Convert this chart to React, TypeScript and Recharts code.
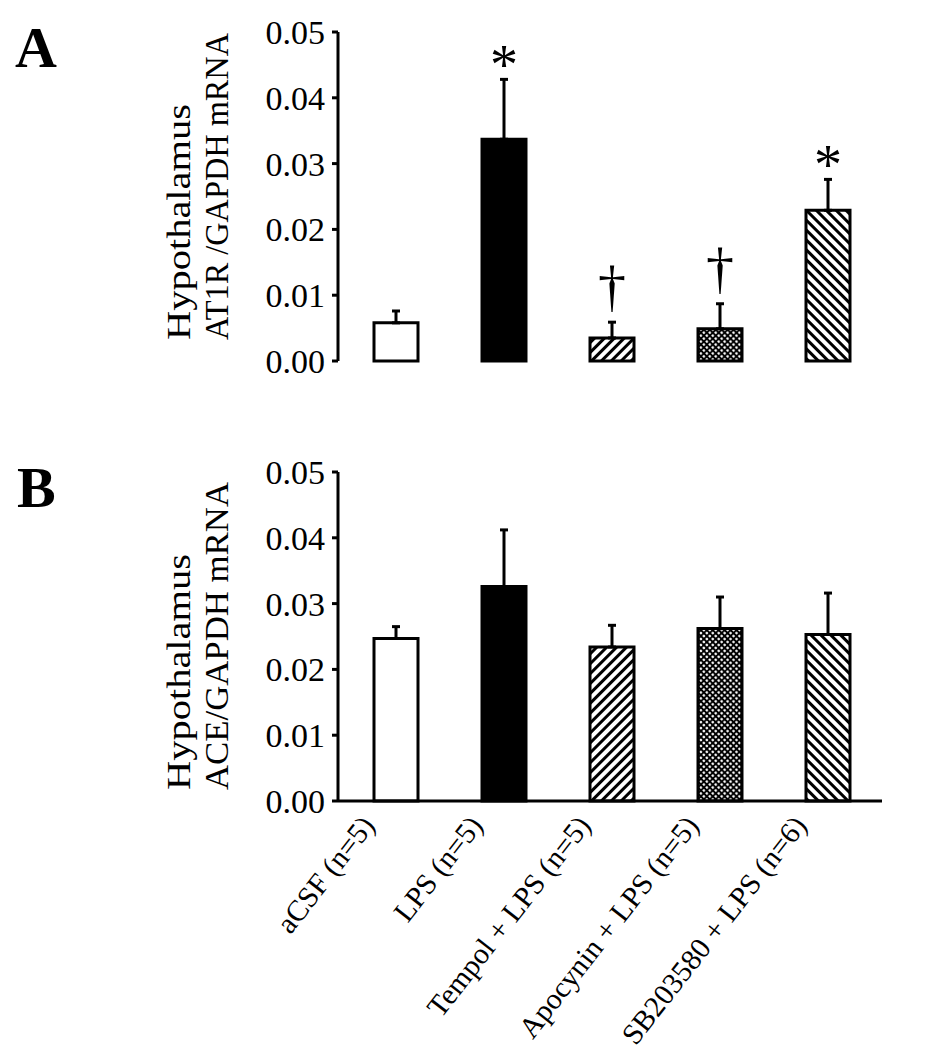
import React from "react";
import { BarChart, Bar, XAxis, YAxis, ErrorBar, Cell, LabelList } from "recharts";

// group labels along the x axis
const groups = [
  "aCSF (n=5)",
  "LPS (n=5)",
  "Tempol + LPS (n=5)",
  "Apocynin + LPS (n=5)",
  "SB203580 + LPS (n=6)",
];

// panel A: AT1R / GAPDH mRNA (mean, SEM)
const at1rMean = [0.0058, 0.0337, 0.0035, 0.0049, 0.0229];
const at1rSem = [0.0018, 0.0091, 0.0024, 0.0038, 0.0047];
const at1rMarks = ["", "*", "†", "†", "*"];

// panel B: ACE / GAPDH mRNA (mean, SEM)
const aceMean = [0.0247, 0.0326, 0.0234, 0.0262, 0.0253];
const aceSem = [0.0018, 0.0086, 0.0033, 0.0048, 0.0063];

const yTicks = [0, 0.01, 0.02, 0.03, 0.04, 0.05];

const barFills = ["#ffffff", "#000000", "url(#hatchFwd)", "url(#hatchCross)", "url(#hatchBack)"];

const SERIF = "'Liberation Serif', 'Times New Roman', serif";

const dataA = groups.map((name, i) => ({
  name,
  value: at1rMean[i],
  err: [0, at1rSem[i]],
  sem: at1rSem[i],
  mark: at1rMarks[i],
}));

const dataB = groups.map((name, i) => ({
  name,
  value: aceMean[i],
  err: [0, aceSem[i]],
  sem: aceSem[i],
  mark: "",
}));

const AngledTick = (props: any) => {
  const { x, y, payload } = props;
  return (
    <g transform={`translate(${x - 20},${y + 17})`}>
      <text x={0} y={0} transform="rotate(-52)" textAnchor="end" fontFamily={SERIF} fontSize={29.5} fill="#000">
        {payload.value}
      </text>
    </g>
  );
};

// significance symbol placed just above the error bar
const markLabel = (data: any[]) => (p: any) => {
  const { x, y, width, height, index, value } = p;
  if (!value) return null;
  const d = data[index];
  const errTop = y - d.sem * (height / d.value);
  const cx = x + width / 2;
  if (value === "*") {
    return (
      <text x={cx} y={errTop + 5} textAnchor="middle" fontFamily={SERIF} fontSize={56} fill="#000">
        *
      </text>
    );
  }
  return (
    <text x={cx} y={errTop - 17} textAnchor="middle" fontFamily={SERIF} fontSize={56} fill="#000">
      †
    </text>
  );
};

function Panel({ data, height, xHeight, angled }: { data: any[]; height: number; xHeight: number; angled: boolean }) {
  return (
    <BarChart
      width={944}
      height={height}
      data={data}
      margin={{ top: 32, right: 62, left: 0, bottom: angled ? 0 : 39 }}
      barSize={44}
    >
      <XAxis
        dataKey="name"
        height={xHeight}
        padding={{ left: 4, right: 0 }}
        axisLine={{ stroke: "#000", strokeWidth: 3 }}
        tickLine={false}
        tick={angled ? <AngledTick /> : false}
        interval={0}
      />
      <YAxis
        width={338}
        domain={[0, 0.05]}
        ticks={yTicks}
        tickFormatter={(v: number) => v.toFixed(2)}
        axisLine={{ stroke: "#000", strokeWidth: 3 }}
        tickLine={{ stroke: "#000", strokeWidth: 3 }}
        tickSize={6}
        tickMargin={7}
        tick={{ fontSize: 34, fontFamily: SERIF, fill: "#000" }}
        interval={0}
      />
      <Bar dataKey="value" stroke="#000" strokeWidth={3} isAnimationActive={false}>
        {data.map((_, i) => (
          <Cell key={i} fill={barFills[i]} />
        ))}
        <ErrorBar dataKey="err" width={4} stroke="#000" strokeWidth={3} direction="y" isAnimationActive={false} />
        <LabelList dataKey="mark" content={markLabel(data)} />
      </Bar>
    </BarChart>
  );
}

export default function App() {
  return (
    <div style={{ position: "absolute", left: 0, top: 0, width: 944, height: 1050, background: "#fff" }}>
      <svg width={0} height={0} style={{ position: "absolute" }}>
        <defs>
          <pattern id="hatchFwd" width={7} height={7} patternUnits="userSpaceOnUse" patternTransform="rotate(45)">
            <rect x={0} y={0} width={7} height={7} fill="#fff" />
            <rect x={0} y={0} width={3} height={7} fill="#000" />
          </pattern>
          <pattern id="hatchBack" width={7} height={7} patternUnits="userSpaceOnUse" patternTransform="rotate(-45)">
            <rect x={0} y={0} width={7} height={7} fill="#fff" />
            <rect x={0} y={0} width={3} height={7} fill="#000" />
          </pattern>
          <pattern id="hatchCross" width={4.2} height={4.2} patternUnits="userSpaceOnUse" patternTransform="rotate(45)">
            <rect x={0} y={0} width={4.2} height={4.2} fill="#000" />
            <circle cx={2.1} cy={2.1} r={1.3} fill="#fff" />
          </pattern>
        </defs>
      </svg>

      <div style={{ position: "absolute", left: 0, top: 0 }}>
        <Panel data={dataA} height={400} xHeight={0} angled={false} />
      </div>
      <div style={{ position: "absolute", left: 0, top: 440 }}>
        <Panel data={dataB} height={610} xHeight={249} angled={true} />
      </div>

      <svg width={944} height={1050} style={{ position: "absolute", left: 0, top: 0, pointerEvents: "none" }}>
        <text x={15} y={67} fontFamily={SERIF} fontWeight="bold" fontSize={58} fill="#000">A</text>
        <text x={17} y={507} fontFamily={SERIF} fontWeight="bold" fontSize={58} fill="#000">B</text>

        <g fontFamily={SERIF} fontSize={33} fill="#000">
          <text transform="translate(190,340) rotate(-90)" textLength={236} lengthAdjust="spacingAndGlyphs">Hypothalamus</text>
          <text transform="translate(228,340) rotate(-90)" textLength={307} lengthAdjust="spacingAndGlyphs">AT1R /GAPDH mRNA</text>
          <text transform="translate(190,790) rotate(-90)" textLength={236} lengthAdjust="spacingAndGlyphs">Hypothalamus</text>
          <text transform="translate(228,790) rotate(-90)" textLength={308} lengthAdjust="spacingAndGlyphs">ACE/GAPDH mRNA</text>
        </g>
      </svg>
    </div>
  );
}
